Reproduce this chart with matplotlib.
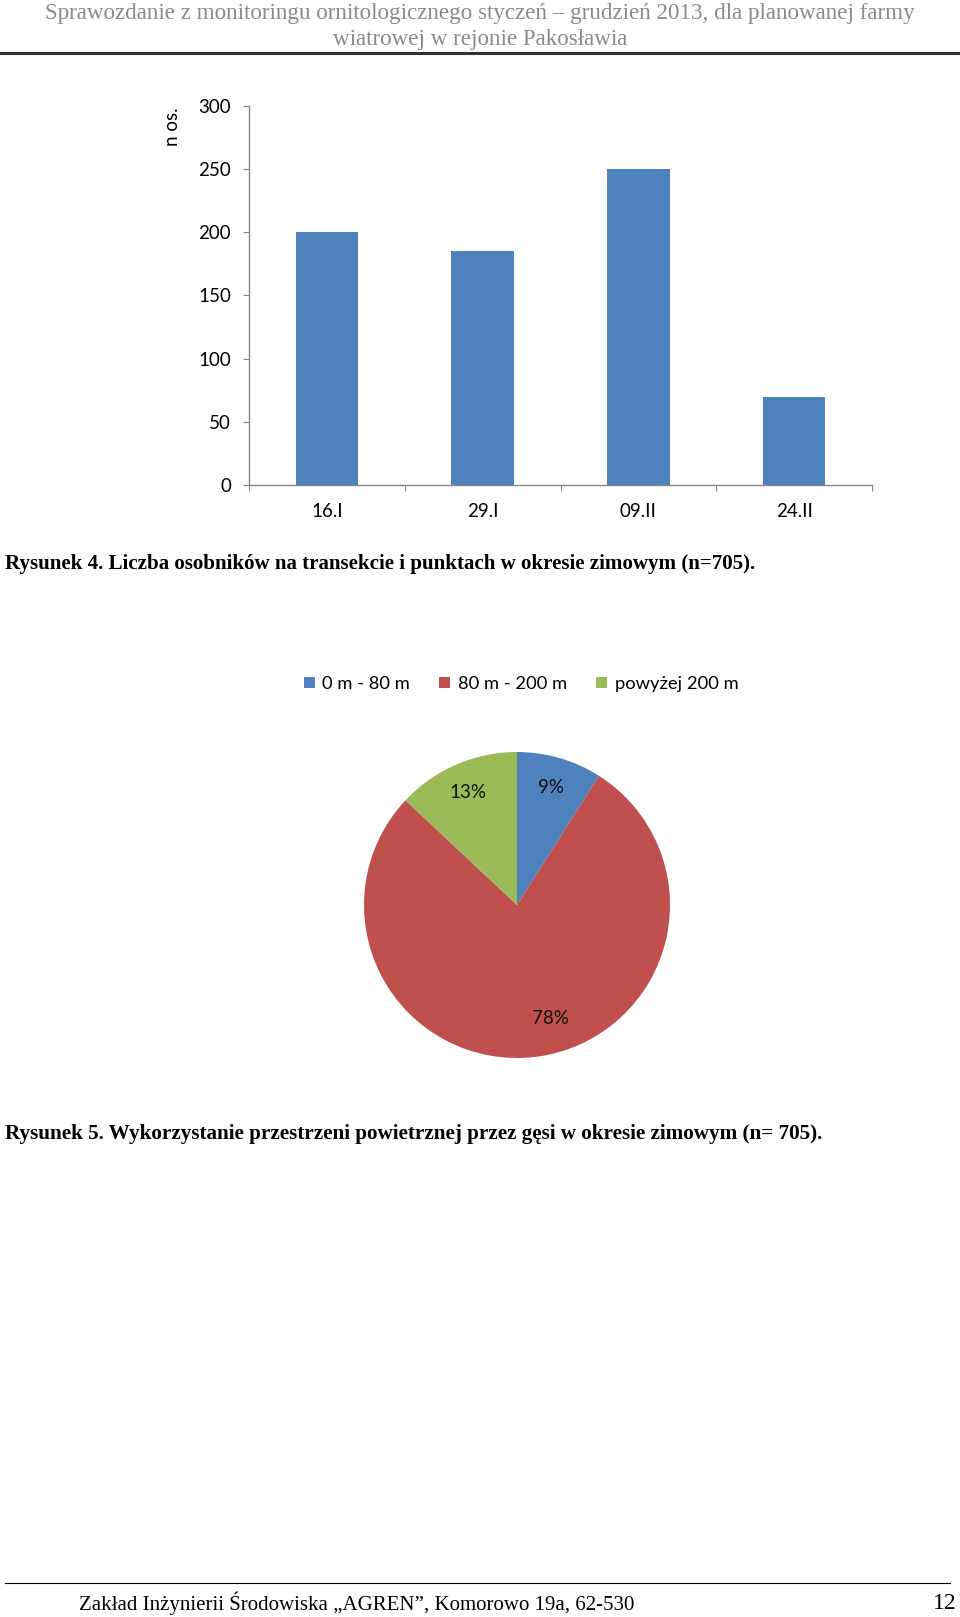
import matplotlib.pyplot as plt
from matplotlib.patches import Patch
import numpy as np

plt.rcParams['font.family'] = ['Lato', 'DejaVu Sans']

# dane - wykres słupkowy
daty = ['16.I', '29.I', '09.II', '24.II']
liczebnosc = [200, 185, 250, 70]

# dane - wykres kołowy
przedzialy = ['0 m - 80 m', '80 m - 200 m', 'powyżej 200 m']
udzial = [9, 78, 13]
kolory = ['#4F81BD', '#C0504D', '#9BBB59']

W, H = 960, 1617
fig = plt.figure(figsize=(W / 100, H / 100), dpi=100)

def fx(x):
    return x / W

def fy(y):
    return 1 - y / H

serif = ['Liberation Serif', 'DejaVu Serif']
szary_os = '#868686'
fs = 13.5

### naglowek
fig.text(0.5, fy(14), 'Sprawozdanie z monitoringu ornitologicznego styczeń – grudzień 2013, dla planowanej farmy',
         ha='center', va='center', family=serif, fontsize=16.6, color='#8a8a8a')
fig.text(0.5, fy(40), 'wiatrowej w rejonie Pakosławia',
         ha='center', va='center', family=serif, fontsize=16.6, color='#8a8a8a')
fig.add_artist(plt.Line2D([0, 1], [fy(53), fy(53)], color='#333333', lw=2.2))

### wykres slupkowy
ax = fig.add_axes([fx(249), fy(485), fx(872 - 249), fy(106) - fy(485)])
x = np.arange(len(daty))
ax.bar(x, liczebnosc, width=0.4, color='#4F81BD', zorder=2)
ax.set_xlim(-0.5, len(daty) - 0.5)
ax.set_ylim(0, 300)
ax.set_yticks(np.arange(0, 301, 50))
ax.set_xticks(np.arange(-0.5, len(daty)), labels=[])
ax.set_xticks(x, labels=daty, minor=True)
ax.tick_params(axis='x', which='major', length=4, color=szary_os, direction='out')
ax.tick_params(axis='x', which='minor', length=0, pad=13, labelsize=fs)
ax.tick_params(axis='y', length=4, color=szary_os, direction='out', pad=9, labelsize=fs)
for s in ['top', 'right']:
    ax.spines[s].set_visible(False)
for s in ['left', 'bottom']:
    ax.spines[s].set_color(szary_os)
    ax.spines[s].set_linewidth(1)
fig.text(fx(173), fy(127), 'n os.', rotation=90, ha='center', va='center', fontsize=fs)

fig.text(fx(5), fy(564), 'Rysunek 4. Liczba osobników na transekcie i punktach w okresie zimowym (n=705).',
         ha='left', va='center', family=serif, fontweight='bold', fontsize=15.1)

### wykres kolowy
r = 153
ax2 = fig.add_axes([fx(517 - r), fy(905 + r), fx(2 * r), fy(905 - r) - fy(905 + r)])
wedges, teksty, procenty = ax2.pie(udzial, colors=kolory, startangle=90, counterclock=False,
                                   autopct='%1.0f%%', pctdistance=0.8,
                                   textprops={'fontsize': fs, 'color': '#111111'})
procenty[1].set_position((0.22, -0.74))
ax2.set_xlim(-1, 1)
ax2.set_ylim(-1, 1)
ax2.set_aspect('equal')

uchwyty = [Patch(facecolor=k, edgecolor='none') for k in kolory]
fig.legend(uchwyty, przedzialy, loc='center', bbox_to_anchor=(fx(521), fy(684)), ncol=3,
           frameon=False, fontsize=13.2, handlelength=0.6, handleheight=0.6,
           handletextpad=0.4, columnspacing=1.6)

fig.text(fx(5), fy(1134), 'Rysunek 5. Wykorzystanie przestrzeni powietrznej przez gęsi w okresie zimowym (n= 705).',
         ha='left', va='center', family=serif, fontweight='bold', fontsize=15.2)

### stopka
fig.add_artist(plt.Line2D([fx(5), fx(950)], [fy(1583), fy(1583)], color='black', lw=0.8))
fig.text(fx(79), fy(1603), 'Zakład Inżynierii Środowiska „AGREN”, Komorowo 19a, 62-530',
         ha='left', va='center', family=serif, fontsize=15)
fig.text(fx(957), fy(1603), '12', ha='right', va='center', family=serif, fontsize=17)

fig.savefig('out.png', dpi=100)
